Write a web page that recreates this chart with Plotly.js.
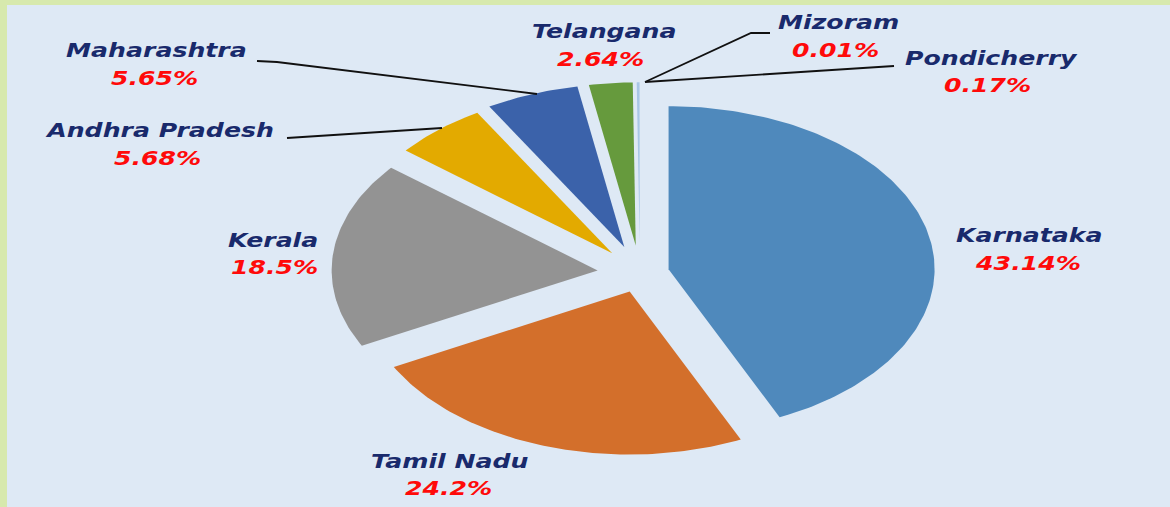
<!DOCTYPE html>
<html>
<head>
<meta charset="utf-8">
<script src="https://cdn.plot.ly/plotly-3.0.1.min.js"></script>
<style>
html,body{margin:0;padding:0;background:#dee9f5;}
#chart{width:1170px;height:507px;}
.annotation-text{transform:scaleX(1.26);transform-box:fill-box;transform-origin:center;}
</style>
</head>
<body>
<div id="chart"></div>
<script>
// ---- data ----
const states = ['Karnataka','Tamil Nadu','Kerala','Andhra Pradesh','Maharashtra','Telangana','Pondicherry','Mizoram'];
const shares = [43.14, 24.2, 18.5, 5.68, 5.65, 2.64, 0.17, 0.01];
const percentLabels = ['43.14%','24.2%','18.5%','5.68%','5.65%','2.64%','0.17%','0.01%'];

// ---- style ----
const sliceColors = ['#4f89bc','#d36f2b','#939393','#e3aa00','#3b62aa','#669a3d','#a8c6e6','#2a5e92'];
const pulls = [0.11, 0.12, 0.16, 0.16, 0.17, 0.17, 0.17, 0.17];
const W = 1170, H = 507;
const CX = 640, CY = 273, RX = 266, RY = 163;   // pie centre and semi-axes in pixels

// label placement (pixels): name centre and percent centre
const labelLayout = {
  'Karnataka':      {name:[1029,236], pct:[1028,263]},
  'Tamil Nadu':     {name:[449,461],  pct:[448,488]},
  'Kerala':         {name:[273,240],  pct:[274,267]},
  'Andhra Pradesh': {name:[159,130],  pct:[157,158]},
  'Maharashtra':    {name:[156,51],   pct:[154,78]},
  'Telangana':      {name:[604,32],   pct:[600,60]},
  'Pondicherry':    {name:[991,58],   pct:[987,86]},
  'Mizoram':        {name:[838,22],   pct:[835,51]}
};
const leaders = [
  [[257,61],[277,62],[537,94]],
  [[287,138],[442,128]],
  [[770,33],[751,33],[645,82]],
  [[894,66],[645,82]]
];

const px2p = p => [p[0]/W, 1 - p[1]/H];

// ---- build slices from shares ----
const total = shares.reduce((a,b)=>a+b,0);
const traces = [];
let start = 0;
shares.forEach((v,i)=>{
  const sweep = v/total*2*Math.PI;
  const a0 = start, a1 = start + sweep;
  const mid = (a0+a1)/2;
  const vx = pulls[i]*Math.sin(mid), vy = pulls[i]*Math.cos(mid);
  const xs=[vx], ys=[vy];
  const n = Math.max(2, Math.ceil(sweep/(Math.PI/180)));
  for(let k=0;k<=n;k++){
    const t = a0 + sweep*k/n;
    xs.push(vx+Math.sin(t)); ys.push(vy+Math.cos(t));
  }
  xs.push(vx); ys.push(vy);
  traces.push({
    type:'scatter', mode:'lines', x:xs, y:ys, fill:'toself',
    fillcolor:sliceColors[i], line:{width:0, color:sliceColors[i]},
    name:states[i], text:states[i]+': '+percentLabels[i], hoverinfo:'text', showlegend:false
  });
  start = a1;
});

// ---- annotations ----
const nameFont = {family:'DejaVu Sans', size:20, color:'#192a6c', weight:'bold', style:'italic'};
const pctFont  = {family:'DejaVu Sans', size:20, color:'#ff0a0a', weight:'bold', style:'italic'};
const annotations = [];
states.forEach((s,i)=>{
  const L = labelLayout[s];
  const n = px2p(L.name), p = px2p(L.pct);
  annotations.push({text:s, x:n[0], y:n[1], xref:'paper', yref:'paper', showarrow:false, xanchor:'center', yanchor:'middle', font:nameFont});
  annotations.push({text:percentLabels[i], x:p[0], y:p[1], xref:'paper', yref:'paper', showarrow:false, xanchor:'center', yanchor:'middle', font:pctFont});
});

const shapes = [{
  type:'rect', xref:'paper', yref:'paper', x0:7/W, x1:1, y0:0, y1:1-5/H,
  fillcolor:'#dee9f5', line:{width:0}, layer:'below'
}];
leaders.forEach(pts=>{
  const d = pts.map((q,k)=>{const p=px2p(q); return (k?'L':'M')+p[0].toFixed(5)+','+p[1].toFixed(5);}).join(' ');
  shapes.push({type:'path', xref:'paper', yref:'paper', path:d, line:{color:'#111111', width:1.8}});
});

const layout = {
  width:W, height:H, margin:{l:0,r:0,t:0,b:0},
  paper_bgcolor:'#d7e9ad', plot_bgcolor:'rgba(0,0,0,0)',
  xaxis:{range:[(0-CX)/RX,(W-CX)/RX], visible:false, fixedrange:true},
  yaxis:{range:[(CY-H)/RY, CY/RY], visible:false, fixedrange:true},
  annotations:annotations, shapes:shapes, hovermode:'closest'
};
Plotly.newPlot('chart', traces, layout, {displayModeBar:false});
</script>
</body>
</html>
